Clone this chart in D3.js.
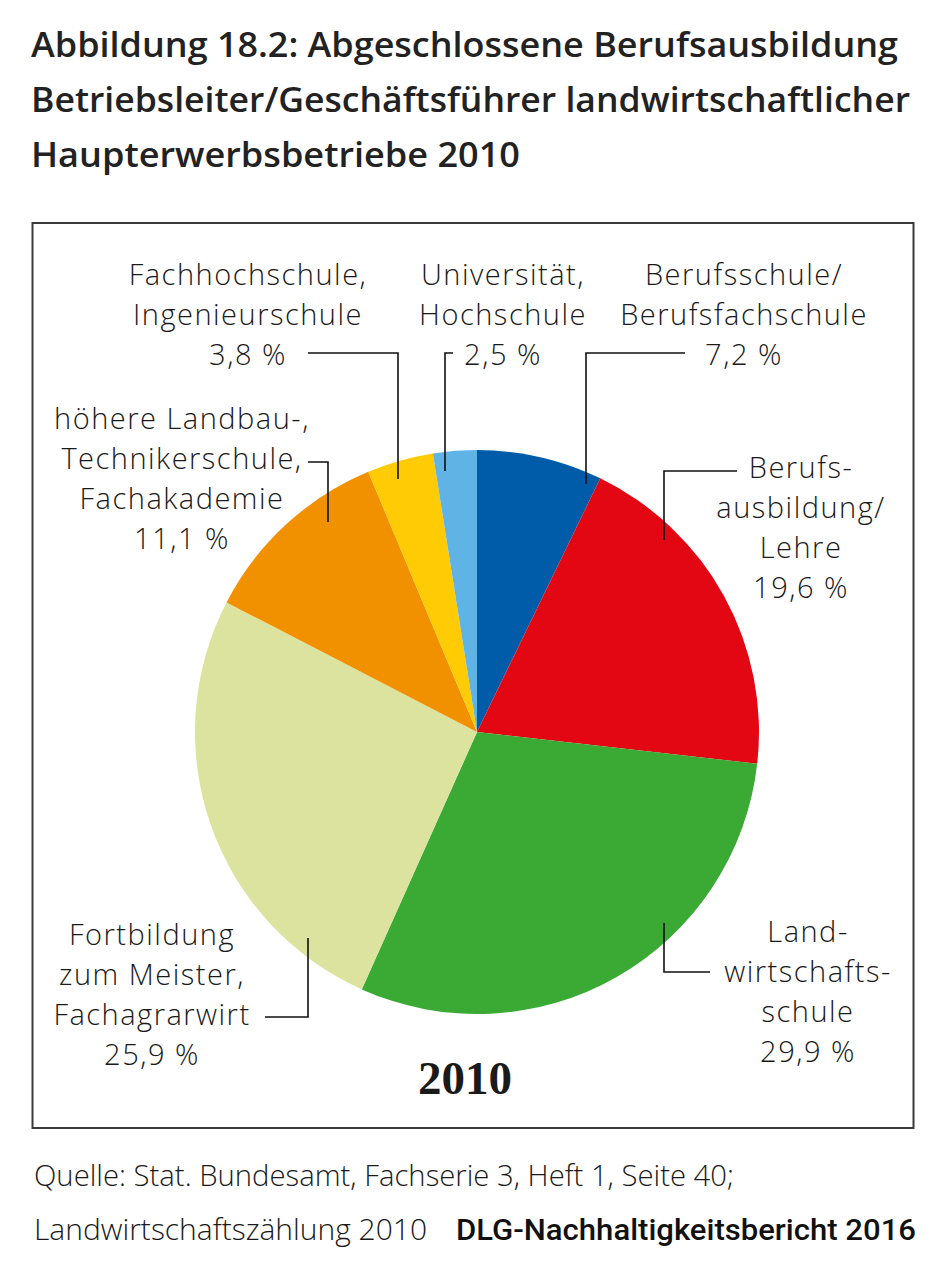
<!DOCTYPE html>
<html>
<head>
<meta charset="utf-8">
<script src="https://cdn.jsdelivr.net/npm/d3@7"></script>
<style>
  html, body { margin: 0; padding: 0; background: #fff; }
  svg { display: block; }
</style>
</head>
<body>
<svg id="chart" width="942" height="1262"></svg>
<script>
// ---- data ----
const categories = [
  "Berufsschule/Berufsfachschule",
  "Berufsausbildung/Lehre",
  "Landwirtschaftsschule",
  "Fortbildung zum Meister, Fachagrarwirt",
  "höhere Landbau-, Technikerschule, Fachakademie",
  "Fachhochschule, Ingenieurschule",
  "Universität, Hochschule"
];
const values = [7.2, 19.6, 29.9, 25.9, 11.1, 3.8, 2.5];
const labelLines = [
  ["Berufsschule/", "Berufsfachschule"],
  ["Berufs-", "ausbildung/", "Lehre"],
  ["Land-", "wirtschafts-", "schule"],
  ["Fortbildung", "zum Meister,", "Fachagrarwirt"],
  ["höhere Landbau-,", "Technikerschule,", "Fachakademie"],
  ["Fachhochschule,", "Ingenieurschule"],
  ["Universität,", "Hochschule"]
];
const colors = ["#005ca9", "#e30613", "#3aaa35", "#dbe39f", "#f29100", "#ffcb05", "#60b3e5"];
const titleLines = [
  "Abbildung 18.2: Abgeschlossene Berufsausbildung",
  "Betriebsleiter/Geschäftsführer landwirtschaftlicher",
  "Haupterwerbsbetriebe 2010"
];
const yearLabel = "2010";
const sourceLines = [
  "Quelle: Stat. Bundesamt, Fachserie 3, Heft 1, Seite 40;",
  "Landwirtschaftszählung 2010"
];
const publisher = "DLG-Nachhaltigkeitsbericht 2016";

// ---- layout (annotation positions) ----
const labelLayout = [
  { cx: 744, y0: 285, leader: [[685,353],[586,353],[586,484]] },
  { cx: 801, y0: 478, leader: [[737,471],[664,471],[664,540]] },
  { cx: 808, y0: 942, leader: [[710,972],[664,972],[664,923]] },
  { cx: 152, y0: 945, leader: [[265,1017],[308,1017],[308,938]] },
  { cx: 182, y0: 429, leader: [[308,462],[328,462],[328,522]] },
  { cx: 248, y0: 285, leader: [[308,353],[398,353],[398,479]] },
  { cx: 503, y0: 285, leader: [[453,353],[445,353],[445,471]] }
];
const lineH = 40;

const svg = d3.select("#chart");
const labelFont = "'Open Sans', 'DejaVu Sans', sans-serif";

// title
const titleWidths = [867, 879, 489];
svg.append("g").selectAll("text").data(titleLines).join("text")
  .attr("x", 31)
  .attr("y", (d, i) => 57 + i * 55)
  .attr("font-family", labelFont)
  .attr("font-weight", 600)
  .attr("font-size", 35)
  .attr("fill", "#222")
  .attr("textLength", (d, i) => titleWidths[i])
  .attr("lengthAdjust", "spacingAndGlyphs")
  .text(d => d);

// frame
svg.append("rect")
  .attr("x", 32.5).attr("y", 223)
  .attr("width", 881).attr("height", 905)
  .attr("fill", "none").attr("stroke", "#3a3a3a").attr("stroke-width", 2);

// pie
const cx = 477, cy = 732, r = 282;
const pie = d3.pie().sort(null).value(d => d).startAngle(0).endAngle(2 * Math.PI);
const arc = d3.arc().innerRadius(0).outerRadius(r);
const arcs = pie(values);
const g = svg.append("g").attr("transform", `translate(${cx},${cy})`);
g.selectAll("path").data(arcs).join("path")
  .attr("d", arc)
  .attr("fill", (d, i) => colors[i]);

// leaders
const line = d3.line();
svg.append("g").selectAll("path").data(labelLayout).join("path")
  .attr("d", d => line(d.leader))
  .attr("fill", "none")
  .attr("stroke", "#111")
  .attr("stroke-width", 1.6);

// labels
const fmt = v => v.toFixed(1).replace(".", ",") + " %";
const lg = svg.append("g")
  .attr("font-family", labelFont)
  .attr("font-weight", 300)
  .attr("font-size", 29)
  .attr("fill", "#1a1a1a")
  .attr("text-anchor", "middle");
labelLines.forEach((lines, i) => {
  const L = labelLayout[i];
  const all = lines.concat([fmt(values[i])]);
  lg.selectAll(null).data(all).enter().append("text")
    .attr("x", L.cx)
    .attr("y", (d, j) => L.y0 + j * lineH)
    .attr("letter-spacing", 1.5)
    .text(d => d);
});

// year
svg.append("text")
  .attr("x", 465).attr("y", 1094)
  .attr("text-anchor", "middle")
  .attr("font-family", "'Liberation Serif', 'DejaVu Serif', serif")
  .attr("font-weight", 700)
  .attr("font-size", 47)
  .attr("fill", "#1a1a1a")
  .text(yearLabel);

// footer
const srcWidths = [700, 393];
svg.append("g").selectAll("text").data(sourceLines).join("text")
  .attr("x", 34)
  .attr("y", (d, i) => 1186 + i * 54)
  .attr("font-family", labelFont)
  .attr("font-weight", 300)
  .attr("font-size", 29)
  .attr("fill", "#1a1a1a")
  .attr("textLength", (d, i) => srcWidths[i])
  .attr("lengthAdjust", "spacingAndGlyphs")
  .text(d => d);
svg.append("text")
  .attr("x", 456).attr("y", 1240)
  .attr("font-family", "'Roboto', 'DejaVu Sans', sans-serif")
  .attr("font-weight", 500)
  .attr("font-size", 29)
  .attr("fill", "#111")
  .attr("textLength", 460)
  .attr("lengthAdjust", "spacingAndGlyphs")
  .text(publisher);
</script>
</body>
</html>
